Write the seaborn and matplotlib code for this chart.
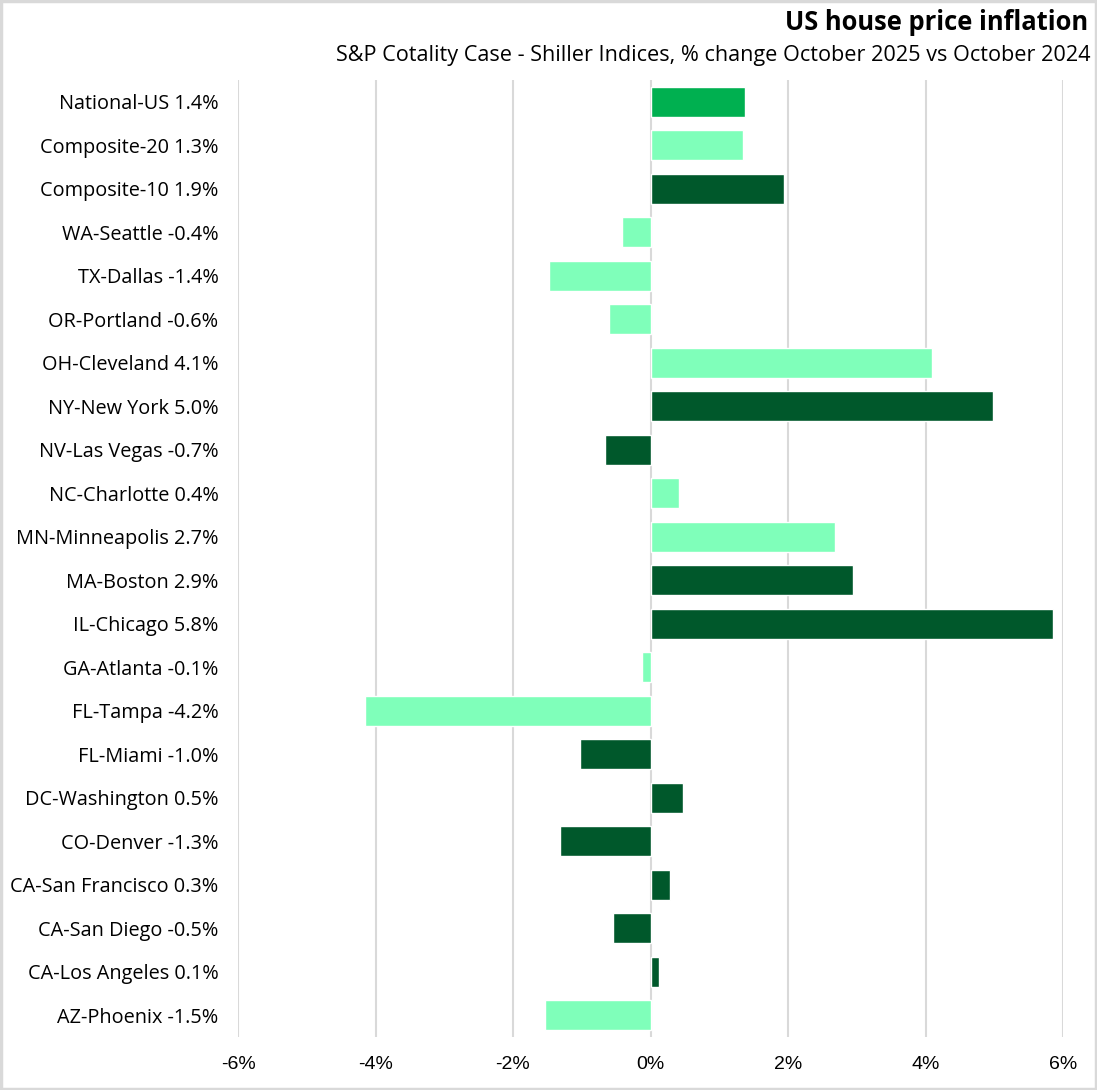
import pandas as pd
import matplotlib.pyplot as plt
import seaborn as sns
from matplotlib.patches import Rectangle

# data (% change Oct 2025 vs Oct 2024)
cities = ['National-US', 'Composite-20', 'Composite-10', 'WA-Seattle', 'TX-Dallas',
          'OR-Portland', 'OH-Cleveland', 'NY-New York', 'NV-Las Vegas', 'NC-Charlotte',
          'MN-Minneapolis', 'MA-Boston', 'IL-Chicago', 'GA-Atlanta', 'FL-Tampa',
          'FL-Miami', 'DC-Washington', 'CO-Denver', 'CA-San Francisco', 'CA-San Diego',
          'CA-Los Angeles', 'AZ-Phoenix']
change = [1.37, 1.34, 1.94, -0.41, -1.47, -0.61, 4.10, 4.98, -0.66, 0.41,
          2.69, 2.95, 5.85, -0.12, -4.16, -1.03, 0.47, -1.32, 0.29, -0.55,
          0.13, -1.54]
# values as printed in the category labels
printed = ['1.4', '1.3', '1.9', '-0.4', '-1.4', '-0.6', '4.1', '5.0', '-0.7', '0.4',
           '2.7', '2.9', '5.8', '-0.1', '-4.2', '-1.0', '0.5', '-1.3', '0.3', '-0.5',
           '0.1', '-1.5']
group = ['national', 'other', 'comp10', 'other', 'other', 'other', 'other', 'comp10',
         'comp10', 'other', 'other', 'comp10', 'comp10', 'other', 'other', 'comp10',
         'comp10', 'comp10', 'comp10', 'comp10', 'comp10', 'other']
xticks = [-6, -4, -2, 0, 2, 4, 6]

df = pd.DataFrame({'city': cities, 'change': change, 'group': group})
df['label'] = [f"{c} {p}%" for c, p in zip(cities, printed)]

palette = {'national': '#00B050', 'other': '#7FFFBA', 'comp10': '#00582B'}

sns.set_theme(style='white')
plt.rcParams['font.family'] = ['Open Sans', 'DejaVu Sans']
plt.rcParams['text.color'] = 'black'
plt.rcParams['ytick.color'] = 'black'
plt.rcParams['xtick.color'] = 'black'

fig = plt.figure(figsize=(10.97, 10.90), dpi=100)
ax = fig.add_axes([238 / 1097, 1 - 1037 / 1090, (1063 - 238) / 1097, (1037 - 80) / 1090])

sns.barplot(data=df, x='change', y='label', hue='group', palette=palette,
            dodge=False, width=0.69, legend=False, ax=ax, saturation=1, zorder=3)

ax.set_xlim(-6, 6)
ax.set_ylim(len(cities) - 0.5, -0.5)
ax.set_xticks(xticks)
ax.set_xticklabels([f"{t}%" for t in xticks], family=['Liberation Sans'], fontsize=14)
for t in xticks:
    ax.axvline(t, color='#D9D9D9', lw=1.5, zorder=1)
ax.tick_params(axis='x', length=0, pad=14)
ax.tick_params(axis='y', length=0, pad=14, labelsize=14.3)
for s in ax.spines.values():
    s.set_visible(False)
ax.set_xlabel('')
ax.set_ylabel('')

fig.text(1088 / 1097, 1 - 22 / 1090, 'US house price inflation', ha='right', va='center',
         fontsize=18.4, fontweight='bold')
fig.text(1090 / 1097, 1 - 56 / 1090,
         'S&P Cotality Case - Shiller Indices, % change October 2025 vs October 2024',
         ha='right', va='center', fontsize=15.6)

fig.patches.append(Rectangle((0.001, 0.001), 0.998, 0.998, transform=fig.transFigure,
                             fill=False, edgecolor='#D9D9D9', lw=2.5))

fig.savefig('out.png', dpi=100, facecolor='white')
